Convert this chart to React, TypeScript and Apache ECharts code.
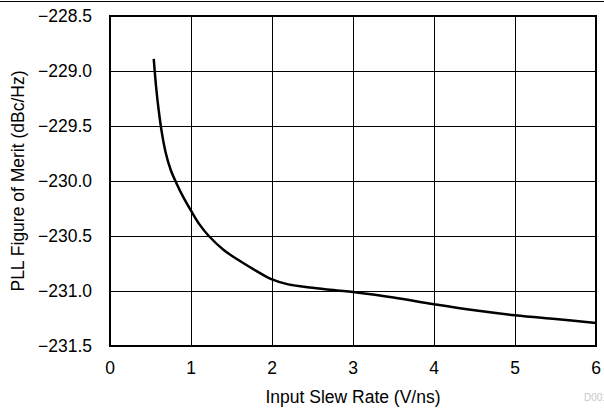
import React, { useEffect, useRef } from "react";
import * as echarts from "echarts";

const slewRate = [0.54, 0.57, 0.6, 0.64, 0.69, 0.75, 0.82, 0.9, 1.0, 1.1, 1.22, 1.4, 1.61, 1.8, 2.0, 2.2, 2.5, 2.8, 3.0, 3.5, 4.0, 4.5, 5.0, 5.5, 6.0];
const figureOfMerit = [-228.89, -229.15, -229.35, -229.56, -229.75, -229.9, -230.02, -230.14, -230.27, -230.39, -230.5, -230.625, -230.73, -230.815, -230.895, -230.94, -230.97, -230.995, -231.01, -231.06, -231.12, -231.175, -231.22, -231.255, -231.29];

const xTitle = "Input Slew Rate (V/ns)";
const yTitle = "PLL Figure of Merit (dBc/Hz)";
const watermark = "D001";

const FONT = "Liberation Sans, Arial, sans-serif";
const FS = 17.5;

export default function App() {
  const ref = useRef<HTMLDivElement>(null);
  useEffect(() => {
    if (!ref.current) return;
    const chart = echarts.init(ref.current, undefined, { renderer: "svg" });
    const fmtY = (v: number) => v.toFixed(1).replace("-", "\u2212");
    chart.setOption({
      animation: false,
      backgroundColor: "#fff",
      textStyle: { fontFamily: FONT },
      grid: { left: 110, right: 8, top: 16, bottom: 65, show: true, borderColor: "#000", borderWidth: 2, backgroundColor: "transparent" },
      xAxis: {
        type: "value",
        min: 0,
        max: 6,
        interval: 1,
        name: xTitle,
        nameLocation: "middle",
        nameGap: 42,
        nameTextStyle: { fontSize: FS, color: "#000", fontFamily: FONT },
        axisLine: { show: true, lineStyle: { color: "#000", width: 2 } },
        axisTick: { show: false },
        axisLabel: { fontSize: FS, color: "#000", margin: 13, fontFamily: FONT },
        splitLine: { show: true, lineStyle: { color: "#000", width: 1 } },
      },
      yAxis: {
        type: "value",
        min: -231.5,
        max: -228.5,
        interval: 0.5,
        name: yTitle,
        nameLocation: "middle",
        nameGap: 83,
        nameTextStyle: { fontSize: FS, color: "#000", fontFamily: FONT },
        axisLine: { show: true, lineStyle: { color: "#000", width: 2 } },
        axisTick: { show: false },
        axisLabel: { fontSize: FS, color: "#000", margin: 18, formatter: fmtY, fontFamily: FONT },
        splitLine: { show: true, lineStyle: { color: "#000", width: 1 } },
      },
      graphic: [
        { type: "line", shape: { x1: 0, y1: 1.5, x2: 604, y2: 1.5 }, style: { stroke: "#000", lineWidth: 1 } },
        { type: "text", left: 584, top: 392, style: { text: watermark, fontSize: 10, fill: "#c8c8c8", fontFamily: FONT } },
      ],
      series: [
        {
          type: "line",
          data: slewRate.map((x, i) => [x, figureOfMerit[i]]),
          smooth: 0.35,
          showSymbol: false,
          lineStyle: { color: "#000", width: 2.5 },
        },
      ],
    });
    return () => chart.dispose();
  }, []);
  return <div ref={ref} style={{ position: "absolute", left: 0, top: 0, width: 604, height: 411 }} />;
}
